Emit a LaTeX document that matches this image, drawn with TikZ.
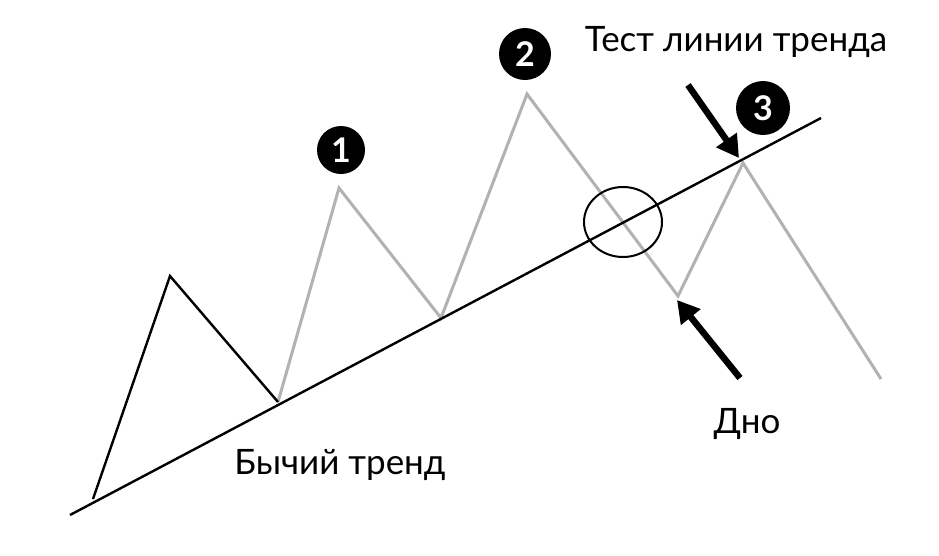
\documentclass[tikz,border=0pt]{standalone}
\usepackage{fontspec}
\setmainfont{Lato}
\usetikzlibrary{arrows.meta,shapes.geometric}
\definecolor{zgray}{HTML}{B2B2B2}
\tikzset{
  grayleg/.style={draw=zgray, line width=3pt, line join=miter},
  blackleg/.style={draw=black, line width=2.4pt, line join=miter},
  trendln/.style={draw=black, line width=2.4pt},
  numdot/.style={circle, fill=black, minimum size=50pt, inner sep=0pt, text=white, font=\fontsize{34}{34}\selectfont\bfseries},
  lbl/.style={font=\fontsize{35}{35}\selectfont, inner sep=0pt, anchor=base},
  bigarrow/.style={draw=black, line width=6.5pt, -{Triangle[width=24pt,length=22pt]}},
}
\begin{document}
\begin{tikzpicture}[x=1pt,y=-1pt]
\useasboundingbox (0,0) rectangle (939,555);
\fill[white] (0,0) rectangle (939,555);
% points
\coordinate (t0) at (70,515);
\coordinate (t1) at (821,118);
\coordinate (b0) at (93,499);
\coordinate (p0) at (170,276);
\coordinate (v1) at (278,402);
\coordinate (p1) at (339,188);
\coordinate (v2) at (441,318);
\coordinate (p2) at (527,94);
\coordinate (v3) at (678,296);
\coordinate (p3) at (743,163);
\coordinate (e) at (881,379);
% gray zigzag
\draw[grayleg] (v1) -- (p1) -- (v2) -- (p2) -- (v3) -- (p3) -- (e);
% black zigzag
\draw[blackleg] (b0) -- (p0) -- (v1);
% trendline
\draw[trendln] (t0) -- (t1);
% ellipse
\node[draw=black, line width=2pt, ellipse, minimum width=78pt, minimum height=70pt, inner sep=0pt] (ring) at (623,222) {};
% arrows
\coordinate (a1s) at (688,85);
\coordinate (a1e) at (739,158);
\coordinate (a2s) at (740,378);
\coordinate (a2e) at (677,300);
\draw[bigarrow] (a1s) -- (a1e);
\draw[bigarrow] (a2s) -- (a2e);
% numbers
\node[numdot, minimum size=48pt] (n1) at (341,150) {1};
\node[numdot, minimum size=52pt] (n2) at (525,54) {2};
\node[numdot, minimum size=54pt] (n3) at (763,108) {3};
% labels
\node[lbl] (l1) at (736,51) {Тест линии тренда};
\node[lbl] (l2) at (340,474) {Бычий тренд};
\node[lbl] (l3) at (747,433) {Дно};
\end{tikzpicture}
\end{document}
